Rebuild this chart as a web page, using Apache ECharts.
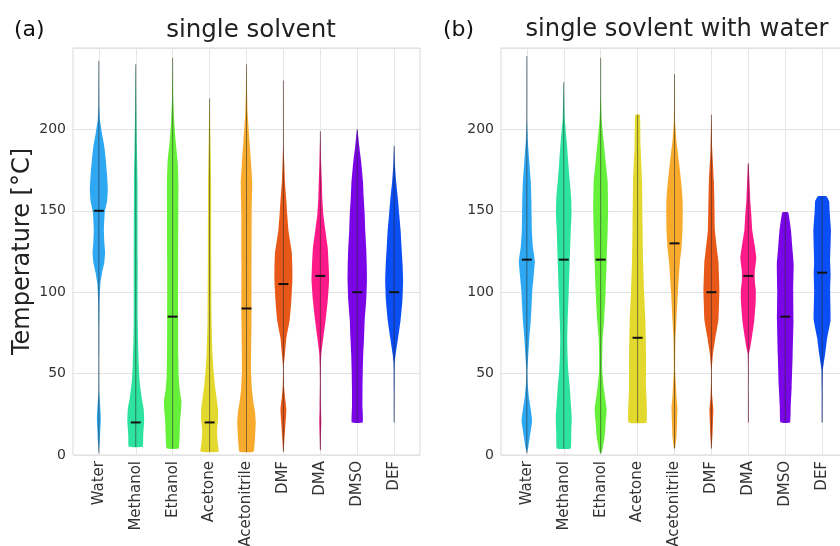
<!DOCTYPE html>
<html>
<head>
<meta charset="utf-8">
<script src="https://cdn.jsdelivr.net/npm/echarts@6/dist/echarts.min.js"></script>
<style>
  html, body { margin: 0; padding: 0; background: #fff; }
  #chart { width: 840px; height: 546px; }
</style>
</head>
<body>
<div id="chart"></div>
<script>
const solvents = ["Water", "Methanol", "Ethanol", "Acetone", "Acetonitrile", "DMF", "DMA", "DMSO", "DEF"];
const colors = ["#2ea8f2", "#2ee3a0", "#66f03a", "#e3d82e", "#f8aa2c", "#e85818", "#ff1a8a", "#7a06e8", "#0a4ef5"];
const yTicks = [0, 50, 100, 150, 200];
const xTicks = [0, 1, 2, 3, 4, 5, 6, 7, 8];

// medians (black bars)
const medianA = [150, 20, 85, 20, 90, 105, 110, 100, 100];
const medianB = [120, 120, 120, 72, 130, 100, 110, 85, 112];

// violin profiles: [temperature, relative density], first/last = data min/max
// (a) single solvent
const waterA = [[1,0],[8,0.1],[15,0.16],[22,0.22],[30,0.15],[40,0.03],[60,0.02],[80,0.04],[95,0.08],[105,0.16],[112,0.36],[118,0.6],[124,0.7],[130,0.62],[138,0.56],[149,0.66],[156,0.92],[163,1.0],[172,0.92],[182,0.76],[190,0.6],[198,0.34],[206,0.12],[215,0.04],[242,0.01]];
const methanolA = [[5,0.78],[12,0.83],[21,0.94],[28,0.89],[35,0.67],[45,0.44],[56,0.33],[70,0.26],[83,0.22],[120,0.22],[168,0.2],[190,0.13],[215,0.06],[240,0.01]];
const ethanolA = [[4,0.67],[12,0.78],[21,0.83],[28,0.94],[33,0.98],[40,0.78],[48,0.67],[60,0.63],[83,0.61],[120,0.61],[168,0.64],[180,0.56],[193,0.33],[205,0.17],[220,0.06],[244,0.01]];
const acetoneA = [[2,1.0],[8,0.89],[15,0.83],[22,0.94],[28,0.94],[35,0.78],[42,0.61],[52,0.44],[62,0.33],[83,0.22],[120,0.19],[168,0.17],[195,0.09],[219,0.02]];
const acetonitrileA = [[2,0.78],[10,0.94],[20,1.03],[27,0.94],[32,0.78],[40,0.61],[52,0.5],[70,0.53],[83,0.56],[120,0.56],[150,0.58],[168,0.64],[180,0.5],[193,0.33],[210,0.13],[225,0.06],[240,0.01]];
const dmfA = [[2,0.03],[9,0.11],[18,0.22],[28,0.33],[36,0.17],[43,0.06],[54,0.03],[62,0.17],[72,0.33],[83,0.7],[95,0.89],[101,0.94],[107,1.0],[115,1.0],[124,0.94],[132,0.72],[138,0.56],[148,0.42],[156,0.33],[168,0.17],[180,0.09],[190,0.03],[230,0.01]];
const dmaA = [[3,0.03],[12,0.07],[20,0.11],[30,0.07],[45,0.04],[55,0.06],[62,0.11],[72,0.33],[83,0.59],[95,0.83],[107,0.98],[115,0.94],[127,0.83],[138,0.56],[148,0.33],[158,0.22],[168,0.17],[180,0.09],[199,0.01]];
const dmsoA = [[20,0.61],[30,0.58],[42,0.59],[52,0.62],[62,0.67],[72,0.76],[83,0.83],[95,1.0],[107,1.08],[117,1.06],[127,1.0],[138,0.89],[148,0.83],[158,0.72],[168,0.64],[180,0.44],[190,0.22],[200,0.03]];
const defA = [[20,0.02],[40,0.03],[52,0.04],[57,0.07],[62,0.17],[72,0.44],[83,0.72],[95,0.92],[107,1.0],[117,0.94],[127,0.83],[138,0.72],[148,0.56],[156,0.44],[168,0.22],[178,0.09],[190,0.01]];
// (b) single solvent with water
const waterB = [[1,0],[5,0.17],[11,0.33],[21,0.59],[28,0.44],[36,0.22],[44,0.09],[52,0.06],[62,0.17],[72,0.28],[83,0.44],[92,0.53],[101,0.61],[110,0.76],[119,0.89],[128,0.67],[138,0.56],[148,0.53],[158,0.5],[168,0.44],[180,0.28],[193,0.11],[205,0.03],[245,0.01]];
const methanolB = [[4,0.78],[12,0.83],[23,0.89],[32,0.78],[42,0.67],[52,0.5],[62,0.42],[72,0.39],[83,0.44],[101,0.56],[119,0.67],[138,0.78],[148,0.87],[158,0.83],[168,0.67],[180,0.5],[193,0.33],[207,0.11],[229,0.01]];
const ethanolB = [[1,0.06],[4,0.22],[11,0.44],[20,0.56],[28,0.67],[35,0.5],[42,0.33],[52,0.17],[62,0.17],[72,0.22],[83,0.39],[101,0.56],[119,0.67],[138,0.78],[150,0.83],[168,0.78],[180,0.56],[193,0.33],[207,0.11],[220,0.03],[244,0.01]];
const acetoneB = [[20,1.0],[42,0.94],[62,0.94],[83,0.87],[101,0.72],[120,0.61],[140,0.56],[168,0.5],[190,0.33],[209,0.26]];
const acetonitrileB = [[4,0.06],[11,0.22],[20,0.28],[29,0.33],[36,0.22],[42,0.17],[52,0.07],[62,0.08],[72,0.11],[83,0.22],[101,0.39],[119,0.61],[127,0.78],[138,0.89],[150,0.92],[158,0.89],[168,0.74],[180,0.5],[193,0.22],[205,0.07],[234,0.01]];
const dmfB = [[4,0.02],[11,0.11],[20,0.17],[28,0.22],[36,0.09],[45,0.04],[52,0.03],[62,0.17],[72,0.44],[83,0.78],[95,0.86],[101,0.89],[107,0.86],[119,0.78],[124,0.67],[138,0.39],[156,0.33],[168,0.28],[188,0.09],[209,0.01]];
const dmaB = [[20,0.02],[40,0.02],[55,0.03],[62,0.06],[66,0.22],[72,0.39],[83,0.67],[95,0.83],[101,0.83],[107,0.72],[113,0.72],[121,0.89],[130,0.67],[138,0.44],[148,0.33],[156,0.22],[168,0.13],[179,0.04]];
const dmsoB = [[20,0.53],[30,0.61],[42,0.72],[62,0.83],[83,0.92],[101,0.89],[117,0.94],[128,0.78],[138,0.64],[149,0.33]];
const defB = [[20,0.03],[40,0.04],[52,0.07],[56,0.17],[62,0.33],[72,0.56],[83,0.94],[101,0.89],[111,0.94],[119,0.89],[138,0.98],[150,0.83],[156,0.78],[159,0.47]];

const profilesA = [waterA, methanolA, ethanolA, acetoneA, acetonitrileA, dmfA, dmaA, dmsoA, defA];
const profilesB = [waterB, methanolB, ethanolB, acetoneB, acetonitrileB, dmfB, dmaB, dmsoB, defB];

const FONT = "DejaVu Sans";
const DENS = 9 / 37; // category units per unit of density

function violinRender(profiles, medians) {
  return function (params, api) {
    const i = api.value(0);
    const prof = profiles[i];
    const right = prof.map(p => api.coord([i + p[1] * DENS, p[0]]));
    const left = prof.slice().reverse().map(p => api.coord([i - p[1] * DENS, p[0]]));
    const lo = api.coord([i, prof[0][0]]);
    const hi = api.coord([i, prof[prof.length - 1][0]]);
    const med = api.coord([i, medians[i]]);
    return {
      type: "group",
      children: [
        { type: "polygon", shape: { points: right.concat(left), smooth: 0.1 }, style: { fill: colors[i] } },
        { type: "line", shape: { x1: lo[0], y1: lo[1], x2: hi[0], y2: hi[1] }, style: { stroke: "rgba(40,40,40,0.55)", lineWidth: 1 } },
        { type: "line", shape: { x1: med[0] - 5, y1: med[1], x2: med[0] + 5, y2: med[1] }, style: { stroke: "#111", lineWidth: 2 } }
      ]
    };
  };
}

function xAxisFor(idx) {
  return {
    type: "value", gridIndex: idx, min: -0.7, max: 8.7,
    axisLine: { show: false },
    axisTick: { show: false, customValues: xTicks },
    axisLabel: {
      customValues: xTicks, rotate: 90, margin: 6,
      formatter: v => solvents[v], fontSize: 15, color: "#333", fontFamily: FONT
    },
    splitLine: { show: true, lineStyle: { color: "#e6e6e6", width: 1 } }
  };
}

function yAxisFor(idx, withName) {
  const ax = {
    type: "value", gridIndex: idx, min: 0, max: 250, interval: 50,
    axisLine: { show: false },
    axisTick: { show: false },
    axisLabel: { customValues: yTicks, fontSize: 14, color: "#333", fontFamily: FONT, margin: 7 },
    splitLine: { lineStyle: { color: "#e3e3e3", width: 1 } }
  };
  if (withName) {
    ax.name = "Temperature [°C]";
    ax.nameLocation = "middle";
    ax.nameGap = 38;
    ax.nameTextStyle = { fontSize: 24, color: "#222", fontFamily: FONT };
  }
  return ax;
}

const chart = echarts.init(document.getElementById("chart"), null, { renderer: "canvas" });
chart.setOption({
  animation: false,
  backgroundColor: "#fff",
  title: [
    { text: "(a)", left: 9, top: 14, textStyle: { fontSize: 22, fontWeight: "normal", color: "#111", fontFamily: FONT } },
    { text: "single solvent", left: 246, top: 13, textAlign: "center", textStyle: { fontSize: 24.5, fontWeight: "normal", color: "#222", fontFamily: FONT } },
    { text: "(b)", left: 438, top: 14, textStyle: { fontSize: 22, fontWeight: "normal", color: "#111", fontFamily: FONT } },
    { text: "single sovlent with water", left: 672, top: 13, textAlign: "center", textStyle: { fontSize: 24.2, fontWeight: "normal", color: "#222", fontFamily: FONT } }
  ],
  grid: [
    { left: 73, top: 48, width: 347, height: 407, show: true, borderColor: "#d9d9d9", borderWidth: 1, outerBoundsMode: "none", containLabel: false },
    { left: 501, top: 48, width: 347, height: 407, show: true, borderColor: "#d9d9d9", borderWidth: 1, outerBoundsMode: "none", containLabel: false }
  ],
  xAxis: [xAxisFor(0), xAxisFor(1)],
  yAxis: [yAxisFor(0, true), yAxisFor(1, false)],
  series: [
    {
      type: "custom", xAxisIndex: 0, yAxisIndex: 0,
      data: solvents.map((s, i) => [i, medianA[i]]),
      renderItem: violinRender(profilesA, medianA)
    },
    {
      type: "custom", xAxisIndex: 1, yAxisIndex: 1,
      data: solvents.map((s, i) => [i, medianB[i]]),
      renderItem: violinRender(profilesB, medianB)
    }
  ]
});
</script>
</body>
</html>
